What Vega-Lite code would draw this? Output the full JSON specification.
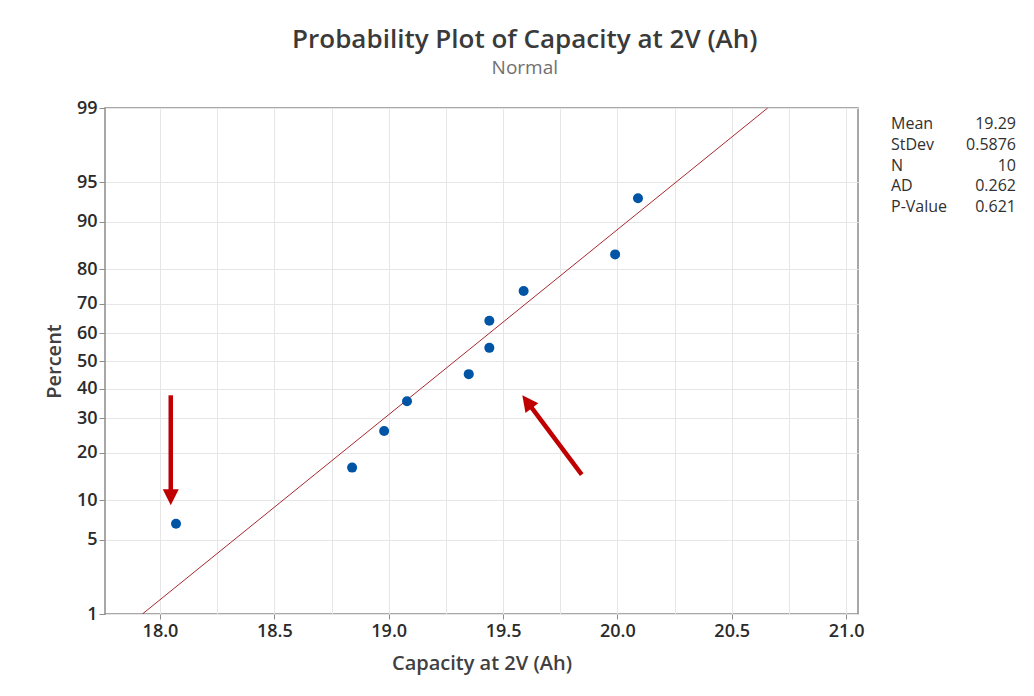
{
  "$schema": "https://vega.github.io/schema/vega-lite/v6.json",
  "background": "white",
  "padding": {"left": 43, "top": 27, "right": 10, "bottom": 10},
  "title": {
    "text": "Probability Plot of Capacity at 2V (Ah)",
    "subtitle": "Normal",
    "anchor": "middle",
    "dx": -5,
    "font": "Open Sans",
    "fontSize": 26,
    "fontWeight": 600,
    "color": "#3a3a3a",
    "subtitleFont": "Open Sans",
    "subtitleFontSize": 19,
    "subtitleFontWeight": 400,
    "subtitleColor": "#707070",
    "subtitlePadding": 6,
    "offset": 20
  },
  "datasets": {
    "points": [
      {"capacity": 18.07, "percent": 6.73, "zscore": -1.4963},
      {"capacity": 18.84, "percent": 16.35, "zscore": -0.9804},
      {"capacity": 18.98, "percent": 25.96, "zscore": -0.6444},
      {"capacity": 19.08, "percent": 35.58, "zscore": -0.3703},
      {"capacity": 19.35, "percent": 45.19, "zscore": -0.1208},
      {"capacity": 19.44, "percent": 54.81, "zscore": 0.1208},
      {"capacity": 19.44, "percent": 64.42, "zscore": 0.3703},
      {"capacity": 19.59, "percent": 74.04, "zscore": 0.6444},
      {"capacity": 19.99, "percent": 83.65, "zscore": 0.9804},
      {"capacity": 20.09, "percent": 93.27, "zscore": 1.4963}
    ],
    "fit": [
      {"capacity": 17.923, "percent": 1, "zscore": -2.32635},
      {"capacity": 20.657, "percent": 99, "zscore": 2.32635}
    ],
    "arrows": [
      {"arrow": "a", "capacity": 18.047, "zscore": -0.3154, "capacity_end": 18.047, "zscore_end": -1.2533},
      {"arrow": "b", "capacity": 19.844, "zscore": -1.0454, "capacity_end": 19.6052, "zscore_end": -0.3742}
    ],
    "stats": [
      {"stat": "Mean", "value": "19.29"},
      {"stat": "StDev", "value": "0.5876"},
      {"stat": "N", "value": "10"},
      {"stat": "AD", "value": "0.262"},
      {"stat": "P-Value", "value": "0.621"}
    ]
  },
  "spacing": 26,
  "hconcat": [
    {
      "width": 753,
      "height": 506,
      "view": {"stroke": "#8c8c8c", "strokeWidth": 1.5},
      "encoding": {
        "x": {
          "field": "capacity",
          "type": "quantitative",
          "scale": {"domain": [17.7595, 21.052], "nice": false, "zero": false},
          "axis": {
            "title": "Capacity at 2V (Ah)",
            "values": [18, 18.25, 18.5, 18.75, 19, 19.25, 19.5, 19.75, 20, 20.25, 20.5, 20.75, 21],
            "labelExpr": "abs(datum.value*2 - round(datum.value*2)) < 0.000001 ? format(datum.value, '.1f') : ''",
            "tickOpacity": {"condition": {"test": "abs(datum.value*2 - round(datum.value*2)) > 0.000001", "value": 0}, "value": 1},
            "grid": true,
            "gridColor": "#e6e6e6",
            "domain": false,
            "tickSize": 5,
            "tickColor": "#8c8c8c",
            "labelFont": "Open Sans",
            "labelFontSize": 18,
            "labelFontWeight": 600,
            "labelColor": "#2b2b2b",
            "labelPadding": 3,
            "labelOverlap": false,
            "labelFlush": false,
            "titleFont": "Open Sans",
            "titleFontSize": 20,
            "titleFontWeight": 600,
            "titleColor": "#404040",
            "titlePadding": 13
          }
        },
        "y": {
          "field": "zscore",
          "type": "quantitative",
          "scale": {"domain": [-2.32635, 2.32635], "nice": false, "zero": false},
          "axis": {
            "title": "Percent",
            "values": [-2.32635, -1.64485, -1.28155, -0.84162, -0.5244, -0.25335, 0, 0.25335, 0.5244, 0.84162, 1.28155, 1.64485, 2.32635],
            "labelExpr": "format(cumulativeNormal(datum.value)*100, '.0f')",
            "grid": true,
            "gridColor": "#e6e6e6",
            "domain": false,
            "tickSize": 6,
            "tickColor": "#8c8c8c",
            "labelFont": "Open Sans",
            "labelFontSize": 18,
            "labelFontWeight": 600,
            "labelColor": "#2b2b2b",
            "labelPadding": 2,
            "labelOverlap": false,
            "labelFlush": false,
            "titleFont": "Open Sans",
            "titleFontSize": 20,
            "titleFontWeight": 600,
            "titleColor": "#404040",
            "titlePadding": 12
          }
        }
      },
      "layer": [
        {
          "data": {"name": "fit"},
          "mark": {"type": "line", "color": "#a8282c", "strokeWidth": 1, "clip": true}
        },
        {
          "data": {"name": "points"},
          "mark": {"type": "point", "filled": true, "shape": "circle", "size": 100, "color": "#0054a6", "opacity": 1}
        },
        {
          "data": {"name": "arrows"},
          "mark": {"type": "rule", "color": "#c00000", "strokeWidth": 4.5},
          "encoding": {
            "x2": {"field": "capacity_end"},
            "y2": {"field": "zscore_end"}
          }
        },
        {
          "data": {"name": "arrows"},
          "transform": [{"filter": "datum.arrow === 'a'"}],
          "mark": {"type": "point", "shape": "M-1,-1L0,1L1,-1Z", "filled": true, "size": 256, "color": "#c00000", "opacity": 1},
          "encoding": {
            "x": {"field": "capacity_end", "type": "quantitative"},
            "y": {"field": "zscore_end", "type": "quantitative"}
          }
        },
        {
          "data": {"name": "arrows"},
          "transform": [{"filter": "datum.arrow === 'b'"}],
          "mark": {"type": "point", "shape": "M-1,1L0,-1L1,1Z", "angle": 323.2, "filled": true, "size": 256, "color": "#c00000", "opacity": 1},
          "encoding": {
            "x": {"field": "capacity_end", "type": "quantitative"},
            "y": {"field": "zscore_end", "type": "quantitative"}
          }
        }
      ]
    },
    {
      "width": 125,
      "height": 115,
      "view": {"stroke": null},
      "data": {"name": "stats"},
      "encoding": {
        "y": {"field": "stat", "type": "nominal", "sort": null, "scale": {"type": "point", "padding": 0.77}, "axis": null}
      },
      "layer": [
        {
          "mark": {"type": "text", "align": "left", "baseline": "middle", "font": "Open Sans", "fontSize": 16, "color": "#303030"},
          "encoding": {
            "x": {"datum": 0, "type": "quantitative", "scale": {"domain": [0, 1]}, "axis": null},
            "text": {"field": "stat"}
          }
        },
        {
          "mark": {"type": "text", "align": "right", "baseline": "middle", "font": "Open Sans", "fontSize": 16, "color": "#303030"},
          "encoding": {
            "x": {"datum": 1, "type": "quantitative"},
            "text": {"field": "value"}
          }
        }
      ]
    }
  ]
}
